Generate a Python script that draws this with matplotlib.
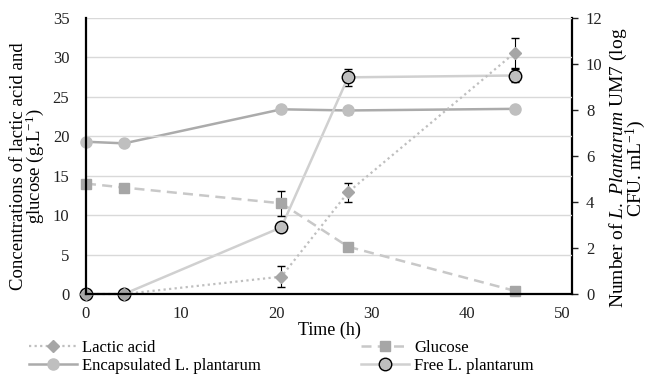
import numpy as np
import matplotlib
matplotlib.use("Agg")
import matplotlib.pyplot as plt
from matplotlib.lines import Line2D

plt.rcParams['font.family'] = ['Liberation Serif', 'DejaVu Serif']
plt.rcParams['mathtext.fontset'] = 'custom'
plt.rcParams['mathtext.rm'] = 'Liberation Serif'
plt.rcParams['mathtext.it'] = 'Liberation Serif:italic'

# data
time_h = [0, 4, 20.5, 27.5, 45]
lactic = [0, 0, 2.2, 12.9, 30.6]
lactic_err = [0, 0, 1.3, 1.2, 1.9]
glucose = [14.0, 13.5, 11.5, 6.0, 0.4]
glucose_err = [0, 0, 1.6, 0, 0]
encaps = [6.62, 6.55, 8.03, 7.98, 8.05]
encaps_err = [0, 0, 0, 0.15, 0]
free = [0, 0, 2.9, 9.42, 9.5]
free_err = [0, 0, 0, 0.38, 0.3]

fig = plt.figure(figsize=(6.48, 3.76), dpi=100)
ax = fig.add_axes([86/648, 1-294/376, (572-86)/648, (294-18)/376])
ax2 = ax.twinx()

ax.set_zorder(ax2.get_zorder() + 1)
ax.patch.set_visible(False)

fs = 12
styles = {
    'lactic': dict(color='#BFBFBF', ls=(0, (1, 1.5)), lw=1.6, marker='D', ms=6.5,
                   mfc='#A6A6A6', mec='#A6A6A6'),
    'glucose': dict(color='#C8C8C8', ls=(0, (4, 2.5)), lw=1.8, marker='s', ms=7.5,
                    mfc='#A6A6A6', mec='#A6A6A6'),
    'encaps': dict(color='#ABABAB', ls='-', lw=1.8, marker='o', ms=8,
                   mfc='#BFBFBF', mec='#BFBFBF'),
    'free': dict(color='#D0D0D0', ls='-', lw=1.8, marker='o', ms=9,
                 mfc='#BFBFBF', mec='black', mew=1.0),
}
err_kw = dict(ecolor='black', elinewidth=0.8, capsize=3)

for c in [
    ax.errorbar(time_h, lactic, yerr=lactic_err, **styles['lactic'], **err_kw),
    ax.errorbar(time_h, glucose, yerr=glucose_err, **styles['glucose'], **err_kw),
    ax2.errorbar(time_h, encaps, yerr=encaps_err, **styles['encaps'], **err_kw),
    ax2.errorbar(time_h, free, yerr=free_err, **styles['free'], **err_kw),
]:
    for art in c.get_children():
        art.set_clip_on(False)

ax.set_xlim(0, 51)
ax.set_ylim(0, 35)
ax2.set_ylim(0, 12)
ax.set_xticks([0, 10, 20, 30, 40, 50])
ax.set_yticks(np.arange(0, 36, 5))
ax2.set_yticks(np.arange(0, 13, 2))
ax.yaxis.grid(True, color='#D9D9D9', lw=1)
ax.set_axisbelow(True)

for a in (ax, ax2):
    a.spines['top'].set_visible(False)
    a.tick_params(labelsize=fs, colors='#222222')
ax.spines['left'].set_linewidth(1.6)
ax.spines['bottom'].set_linewidth(1.6)
ax.spines['right'].set_visible(False)
ax2.spines['left'].set_visible(False)
ax2.spines['bottom'].set_visible(False)
ax2.spines['right'].set_linewidth(1.6)
ax.tick_params(axis='y', length=0, pad=12)
ax.tick_params(axis='x', length=0, pad=9)
ax2.tick_params(axis='y', length=4, width=1, pad=6)

ax.set_xlabel('Time (h)', fontsize=13)
ax.xaxis.set_label_coords(0.5, -0.1)
ax.set_ylabel('Concentrations of lactic acid and\nglucose (g.L$^{-1}$)', fontsize=13.5, linespacing=0.82)
ax.yaxis.set_label_coords(-0.082, 0.464)
ax2.set_ylabel('Number of $\\it{L.\\ Plantarum}$ UM7 (log\nCFU. mL$^{-1}$)', fontsize=14, linespacing=0.74)
ax2.yaxis.set_label_coords(1.073, 0.457)

handles = [Line2D([], [], **styles['lactic']), Line2D([], [], **styles['encaps']),
           Line2D([], [], **styles['glucose']), Line2D([], [], **styles['free'])]
labels = ['Lactic acid', 'Encapsulated L. plantarum', 'Glucose', 'Free L. plantarum']
fig.legend(handles, labels, ncol=2, loc='lower left', bbox_to_anchor=(0.021, -0.035),
           frameon=False, fontsize=fs, handlelength=2.9, handletextpad=0.3,
           columnspacing=6.0, labelspacing=0.12)

plt.savefig('out.png', dpi=100)
